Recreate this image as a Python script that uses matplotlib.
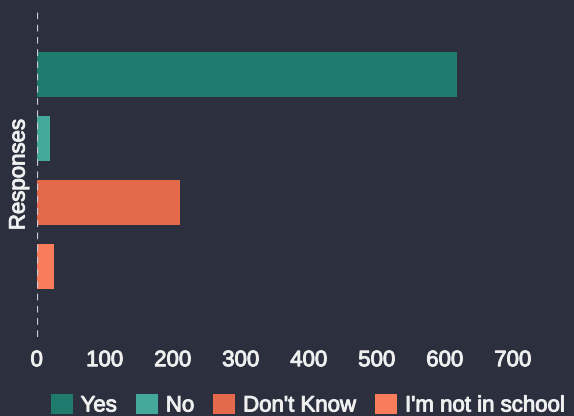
import numpy as np
import matplotlib
matplotlib.use("Agg")
import matplotlib.pyplot as plt
import matplotlib.patheffects as pe

# survey answers and counts
answers = ["Yes", "No", "Don't Know", "I'm not in school"]
counts = [618, 20, 211, 25]
bar_colors = ["#1e7b6d", "#44a89a", "#e4694a", "#f97c5b"]
xticks = [0, 100, 200, 300, 400, 500, 600, 700]

bg = "#2b2f3e"
fg = "#f0f0f0"
fs = 16

plt.rcParams["font.family"] = ["Liberation Sans", "DejaVu Sans"]
# a thin outline makes the regular face look a little heavier
heavy = [pe.withStroke(linewidth=0.7, foreground=fg)]

fig = plt.figure(figsize=(5.74, 4.16), dpi=100, facecolor=bg)
ax = fig.add_axes([0.064, 0.19, 0.936, 0.781], facecolor=bg)

pos = np.arange(len(answers))
for p, v, c, name in zip(pos, counts, bar_colors, answers):
    ax.barh(p, v, height=0.7, color=c, label=name, zorder=2)

# dashed zero line
ax.axvline(0, color="#c9cad2", lw=1.6, ls=(0, (3, 2.5)), zorder=3)

ax.set_xlim(0, 790)
ax.set_ylim(4.1, -0.97)
ax.set_xticks(xticks)
ax.set_xticklabels([str(t) for t in xticks])
ax.set_yticks([])
ax.tick_params(axis="x", length=0, pad=9.5, labelsize=fs, labelcolor=fg)
for t in ax.get_xticklabels():
    t.set_path_effects(heavy)
for s in ax.spines.values():
    s.set_visible(False)

ax.set_ylabel("Responses", fontsize=fs, color=fg, va="center", path_effects=heavy)
ax.yaxis.set_label_coords(-0.033, 0.5)

leg = fig.legend(loc="center", bbox_to_anchor=(0.536, 0.026), ncol=4, frameon=False,
                 fontsize=fs, labelcolor=fg, handlelength=0.99, handleheight=1.0,
                 handletextpad=0.36, columnspacing=0.85)
for t in leg.get_texts():
    t.set_path_effects(heavy)

fig.savefig("out.png", dpi=100, facecolor=bg)
